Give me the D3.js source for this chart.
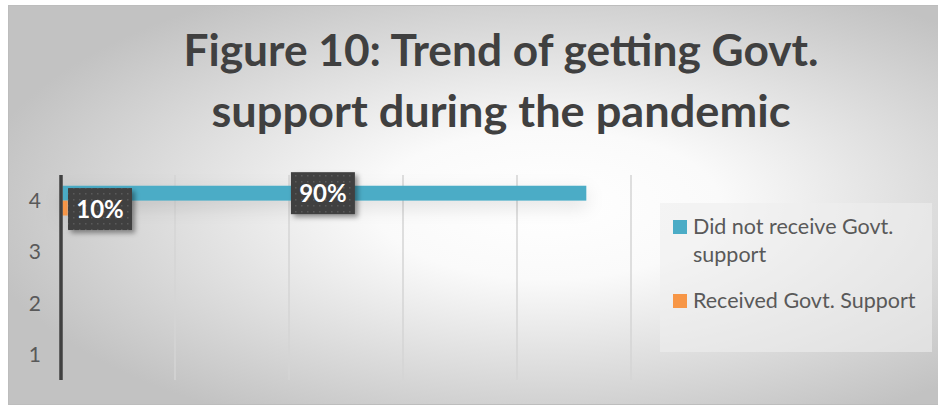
<!DOCTYPE html>
<html>
<head>
<meta charset="utf-8">
<script src="https://cdn.jsdelivr.net/npm/d3@7"></script>
<style>
  html, body { margin: 0; padding: 0; background: #ffffff; }
  svg { display: block; }
</style>
</head>
<body>
<svg id="chart" width="938" height="407"></svg>
<script>
// ---- data ----
const categories = ["1", "2", "3", "4"];
const seriesNames = ["Did not receive Govt. support", "Received Govt. Support"];
const seriesColors = ["#4BACC6", "#F79646"];
// bar lengths (axis units, 0..100), only category "4" has data
const didNotReceive = [null, null, null, 91.9];
const received = [null, null, null, 0.9];
const dataLabels = [["", "", "", "90%"], ["", "", "", "10%"]];
const xTicks = [0, 20, 40, 60, 80, 100];
const titleLines = ["Figure 10: Trend of getting Govt.", "support during the pandemic"];
const legendLines = [["Did not receive Govt.", "support"], ["Received Govt. Support"]];

const svg = d3.select("#chart");
const W = 938, H = 407;
const defs = svg.append("defs");

// background gradient
const rg = defs.append("radialGradient").attr("id", "bg")
  .attr("cx", "58%").attr("cy", "50%").attr("r", "62%");
rg.append("stop").attr("offset", "0%").attr("stop-color", "#ffffff");
rg.append("stop").attr("offset", "30%").attr("stop-color", "#fafafa");
rg.append("stop").attr("offset", "100%").attr("stop-color", "#c2c2c2");

// dotted pattern for labels
const pat = defs.append("pattern").attr("id", "dots").attr("patternUnits", "userSpaceOnUse")
  .attr("width", 6).attr("height", 6);
pat.append("rect").attr("width", 6).attr("height", 6).attr("fill", "#404040");
pat.append("rect").attr("x", 1).attr("y", 1).attr("width", 1.5).attr("height", 1.5).attr("fill", "#5a5a5a");

const sh = defs.append("filter").attr("id", "lblShadow").attr("x", "-30%").attr("y", "-30%").attr("width", "170%").attr("height", "170%");
sh.append("feDropShadow").attr("dx", 3).attr("dy", 3).attr("stdDeviation", 2.5)
  .attr("flood-color", "#000").attr("flood-opacity", 0.4);

const bsh = defs.append("filter").attr("id", "barShadow").attr("x", "-20%").attr("y", "-200%").attr("width", "140%").attr("height", "500%");
bsh.append("feDropShadow").attr("dx", 0).attr("dy", 6).attr("stdDeviation", 9)
  .attr("flood-color", "#000").attr("flood-opacity", 0.12);

// chart area
svg.append("rect").attr("x", 8.5).attr("y", 5.5).attr("width", W - 8).attr("height", H - 8)
  .attr("fill", "url(#bg)").attr("stroke", "#bdbdbd").attr("stroke-width", 1);

// title
const title = svg.append("g").attr("font-family", "Lato, 'Open Sans', sans-serif")
  .attr("font-weight", "bold").attr("fill", "#404040").attr("text-anchor", "middle");
const titleWidths = [635, 579];
const titleBase = [66, 127];
titleLines.forEach((t, i) => {
  title.append("text").attr("x", 501).attr("y", titleBase[i]).attr("font-size", 43)
    .attr("textLength", titleWidths[i]).attr("lengthAdjust", "spacingAndGlyphs").text(t);
});

// scales
const plot = { left: 61, right: 631, top: 175, bottom: 380 };
const x = d3.scaleLinear().domain([0, 100]).range([plot.left, plot.right]);
const y = d3.scaleBand().domain(categories.slice().reverse()).range([plot.top, plot.bottom]);
const inner = d3.scaleBand().domain([0, 1]).range([0, y.bandwidth()]).paddingInner(0).paddingOuter(0.72);

// gridlines
svg.append("g").selectAll("line").data(xTicks.slice(1)).join("line")
  .attr("x1", d => x(d)).attr("x2", d => x(d))
  .attr("y1", plot.top).attr("y2", plot.bottom)
  .attr("stroke", "#d4d4d4").attr("stroke-width", 1.5);

// y axis
const yAxis = svg.append("g").attr("transform", `translate(${plot.left - 16},0)`)
  .call(d3.axisLeft(y).tickSize(0).tickPadding(0));
yAxis.select(".domain").remove();
yAxis.selectAll("text").attr("font-family", "Lato, 'Open Sans', sans-serif")
  .attr("font-size", 21).attr("fill", "#595959").attr("x", -4).attr("dy", "0.36em");

// bars
const series = [didNotReceive, received];
const barsG = svg.append("g").attr("filter", "url(#barShadow)");
series.forEach((vals, s) => {
  const rows = categories.map((c, i) => ({ c, v: vals[i] })).filter(d => d.v != null);
  barsG.selectAll(".bar" + s).data(rows).join("rect")
    .attr("x", x(0) + 1.5)
    .attr("y", d => y(d.c) + inner(s))
    .attr("width", d => x(d.v) - x(0))
    .attr("height", inner.bandwidth())
    .attr("fill", seriesColors[s]);
});

// axis line
svg.append("line").attr("x1", plot.left).attr("x2", plot.left)
  .attr("y1", plot.top).attr("y2", plot.bottom)
  .attr("stroke", "#404040").attr("stroke-width", 3.5);

// data labels
const boxW = 64, boxH = 42;
series.forEach((vals, s) => {
  categories.forEach((c, i) => {
    if (vals[i] == null) return;
    let cx = (x(0) + x(vals[i])) / 2;
    cx = Math.max(cx, plot.left + 7 + boxW / 2);
    const cy = y(c) + inner(s) + inner.bandwidth() / 2 + (s === 1 ? 1 : 0);
    const g = svg.append("g");
    g.append("rect").attr("x", cx - boxW / 2).attr("y", cy - boxH / 2)
      .attr("width", boxW).attr("height", boxH).attr("fill", "url(#dots)")
      .attr("filter", "url(#lblShadow)");
    g.append("text").attr("x", cx).attr("y", cy).attr("dy", "0.36em")
      .attr("text-anchor", "middle").attr("font-family", "Lato, 'Open Sans', sans-serif")
      .attr("font-weight", "bold").attr("font-size", 24).attr("fill", "#ffffff")
      .text(dataLabels[s][i]);
  });
});

// legend
const lg = svg.append("g");
lg.append("rect").attr("x", 660).attr("y", 203).attr("width", 272).attr("height", 149)
  .attr("fill", "#eeeeee").attr("fill-opacity", 0.6);
const legendTops = [220, 294];
legendLines.forEach((lines, s) => {
  lg.append("rect").attr("x", 673).attr("y", legendTops[s]).attr("width", 14).attr("height", 14)
    .attr("fill", seriesColors[s]);
  const t = lg.append("text").attr("font-family", "Lato, 'Open Sans', sans-serif")
    .attr("font-size", 21.5).attr("fill", "#595959");
  lines.forEach((ln, j) => {
    t.append("tspan").attr("x", 693).attr("y", legendTops[s] + 14 + j * 28).text(ln);
  });
});
</script>
</body>
</html>
